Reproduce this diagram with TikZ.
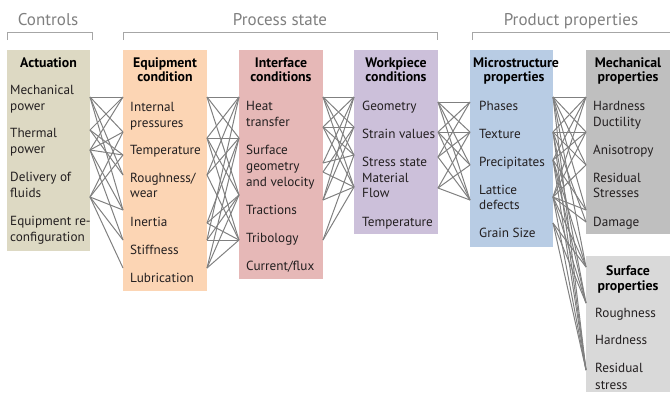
\documentclass[tikz,border=0pt]{standalone}
\usepackage{fontspec}
\setmainfont{PT Sans}
\definecolor{actfill}{HTML}{DDD9C3}
\definecolor{eqfill}{HTML}{FCD5B4}
\definecolor{iffill}{HTML}{E6B8B7}
\definecolor{wpfill}{HTML}{CCC0DA}
\definecolor{msfill}{HTML}{B8CCE4}
\definecolor{mpfill}{HTML}{BFBFBF}
\definecolor{spfill}{HTML}{D9D9D9}
\definecolor{txt}{HTML}{231F20}
\definecolor{grp}{HTML}{7F7F7F}
\definecolor{brk}{HTML}{A6A6A6}
\definecolor{wirec}{HTML}{808080}
\begin{document}
\begin{tikzpicture}[x=1pt,y=-1pt,
  box/.style={anchor=north west, inner sep=0pt, outer sep=0pt, draw=none},
  item/.style={anchor=base west, inner sep=0pt, font=\fontsize{13.2}{15}\selectfont, text=txt},
  head/.style={anchor=base, inner sep=0pt, font=\bfseries\fontsize{13.8}{15}\selectfont, text=black},
  group/.style={anchor=base, inner sep=0pt, font=\fontsize{17}{20}\selectfont, text=grp},
  bracket/.style={draw=brk, line width=0.9pt},
  wire/.style={draw=wirec, line width=1pt}]

\useasboundingbox (0,0) rectangle (670,392);

% group titles and brackets
\node[group] (gctl) at (48,25) {Controls};
\node[group] (gproc) at (280,25) {Process state};
\node[group] (gprod) at (571,25) {Product properties};
\draw[bracket] (7,40) -- (7,32) -- (92,32) -- (92,40);
\draw[bracket] (123,40) -- (123,32) -- (437,32) -- (437,40);
\draw[bracket] (472,40) -- (472,32) -- (670,32);

% coloured columns
\node[box, fill=actfill, minimum width=83pt, minimum height=201pt] (act) at (7,50) {};
\node[box, fill=eqfill, minimum width=84pt, minimum height=241pt] (eq) at (123,50) {};
\node[box, fill=iffill, minimum width=84pt, minimum height=229pt] (intf) at (239,50) {};
\node[box, fill=wpfill, minimum width=84pt, minimum height=184pt] (wp) at (354,50) {};
\node[box, fill=msfill, minimum width=83pt, minimum height=197pt] (ms) at (470,50) {};
\node[box, fill=mpfill, minimum width=84pt, minimum height=184pt] (mp) at (586,50) {};
\node[box, fill=spfill, minimum width=84pt, minimum height=136pt] (sp) at (586,256) {};

% connectors: anchor points on the column edges
\foreach \y in {97,130,150,197} \coordinate (p1l\y) at (90,\y);
\foreach \y in {97,132,155,175,210,240,268} \coordinate (p1r\y) at (123,\y);
\foreach \y in {97,138,175,223,240,268} \coordinate (p2l\y) at (207,\y);
\foreach \y in {97,138,195,240} \coordinate (p2r\y) at (239,\y);
\foreach \y in {97,127,163,172,200,240} \coordinate (p3l\y) at (323,\y);
\foreach \y in {97,127,155,187} \coordinate (p3r\y) at (354,\y);
\foreach \y in {102,132,157,188} \coordinate (p4l\y) at (438,\y);
\foreach \y in {102,132,165,200} \coordinate (p4r\y) at (470,\y);
\foreach \y in {97,132,160,197,223} \coordinate (p5l\y) at (553,\y);
\foreach \y in {97,132,165,210,222,267,303,370} \coordinate (p5r\y) at (586,\y);

\foreach \a/\b in {97/97,97/132,97/175,97/210,130/97,130/155,130/175,
  150/97,150/132,150/155,150/210,150/240,197/132,197/155,197/210,197/240,197/268}
  \draw[wire] (p1l\a) -- (p1r\b);
\foreach \a/\b in {97/97,97/138,97/195,138/97,138/138,138/195,138/240,
  175/97,175/138,175/240,223/138,223/195,223/240,240/97,240/195,240/240,
  268/138,268/195,268/240}
  \draw[wire] (p2l\a) -- (p2r\b);
\foreach \a/\b in {97/97,97/127,97/155,97/187,127/97,127/127,127/155,127/187,
  163/97,163/155,172/127,172/187,200/97,200/127,200/187,240/155,240/187}
  \draw[wire] (p3l\a) -- (p3r\b);
\foreach \a/\b in {102/102,102/132,102/165,102/200,132/102,132/132,132/165,132/200,
  157/102,157/132,157/200,188/132,188/165,188/200}
  \draw[wire] (p4l\a) -- (p4r\b);
\foreach \a/\b in {97/97,97/132,97/165,97/210,97/267,97/370,132/97,132/132,132/165,132/222,
  132/303,132/370,160/97,160/132,160/210,160/267,160/303,160/370,197/97,197/132,197/165,
  197/210,197/222,197/267,197/303,197/370,223/267,223/303,223/370}
  \draw[wire] (p5l\a) -- (p5r\b);

% Actuation
\node[head] (acth) at (48.5,67) {Actuation};
\node[item] (a1) at (10,94.5) {Mechanical};
\node[item] (a2) at (10,110.5) {power};
\node[item] (a3) at (10,137.5) {Thermal};
\node[item] (a4) at (10,153.5) {power};
\node[item] (a5) at (10,181.5) {Delivery of};
\node[item] (a6) at (10,197.5) {fluids};
\node[item] (a7) at (10,225.5) {Equipment re-};
\node[item] (a8) at (10,241.5) {configuration};

% Equipment condition
\node[head] (eqh1) at (165,67.5) {Equipment};
\node[head] (eqh2) at (165,81.5) {condition};
\node[item] (e1) at (130,111.5) {Internal};
\node[item] (e2) at (130,127.5) {pressures};
\node[item] (e3) at (130,154.5) {Temperature};
\node[item] (e4) at (130,182.5) {Roughness/};
\node[item] (e5) at (130,197.5) {wear};
\node[item] (e6) at (130,226.5) {Inertia};
\node[item] (e7) at (130,254.5) {Stiffness};
\node[item] (e8) at (130,282.5) {Lubrication};

% Interface conditions
\node[head] (ifh1) at (281,67.5) {Interface};
\node[head] (ifh2) at (281,81.5) {conditions};
\node[item] (i1) at (246,110.5) {Heat};
\node[item] (i2) at (246,126.5) {transfer};
\node[item] (i3) at (246,154.5) {Surface};
\node[item] (i4) at (246,170.5) {geometry};
\node[item] (i5) at (246,186.5) {and velocity};
\node[item] (i6) at (246,214.5) {Tractions};
\node[item] (i7) at (246,242.5) {Tribology};
\node[item] (i8) at (246,270.5) {Current/flux};

% Workpiece conditions
\node[head] (wph1) at (396,67.5) {Workpiece};
\node[head] (wph2) at (396,81.5) {conditions};
\node[item] (w1) at (362,110.5) {Geometry};
\node[item] (w2) at (362,138.5) {Strain values};
\node[item] (w3) at (362,166.5) {Stress state};
\node[item] (w4) at (362,182.5) {Material};
\node[item] (w5) at (362,197.5) {Flow};
\node[item] (w6) at (362,226.5) {Temperature};

% Microstructure properties
\node[head] (msh1) at (516,67.5) {Microstructure};
\node[head] (msh2) at (514,81.5) {properties};
\node[item] (m1) at (479,110.5) {Phases};
\node[item] (m2) at (479,138.5) {Texture};
\node[item] (m3) at (479,166.5) {Precipitates};
\node[item] (m4) at (479,194.5) {Lattice};
\node[item] (m5) at (479,209.5) {defects};
\node[item] (m6) at (479,237.5) {Grain Size};

% Mechanical properties
\node[head] (mph1) at (628,67.5) {Mechanical};
\node[head] (mph2) at (628,81.5) {properties};
\node[item] (k1) at (593,110.5) {Hardness};
\node[item] (k2) at (593,126.5) {Ductility};
\node[item] (k3) at (593,154.5) {Anisotropy};
\node[item] (k4) at (593,182.5) {Residual};
\node[item] (k5) at (593,197.5) {Stresses};
\node[item] (k6) at (593,226.5) {Damage};

% Surface properties
\node[head] (sph1) at (628,275.5) {Surface};
\node[head] (sph2) at (628,290.5) {properties};
\node[item] (s1) at (595,317.5) {Roughness};
\node[item] (s2) at (595,344.5) {Hardness};
\node[item] (s3) at (595,372.5) {Residual};
\node[item] (s4) at (595,389.5) {stress};
\end{tikzpicture}
\end{document}
